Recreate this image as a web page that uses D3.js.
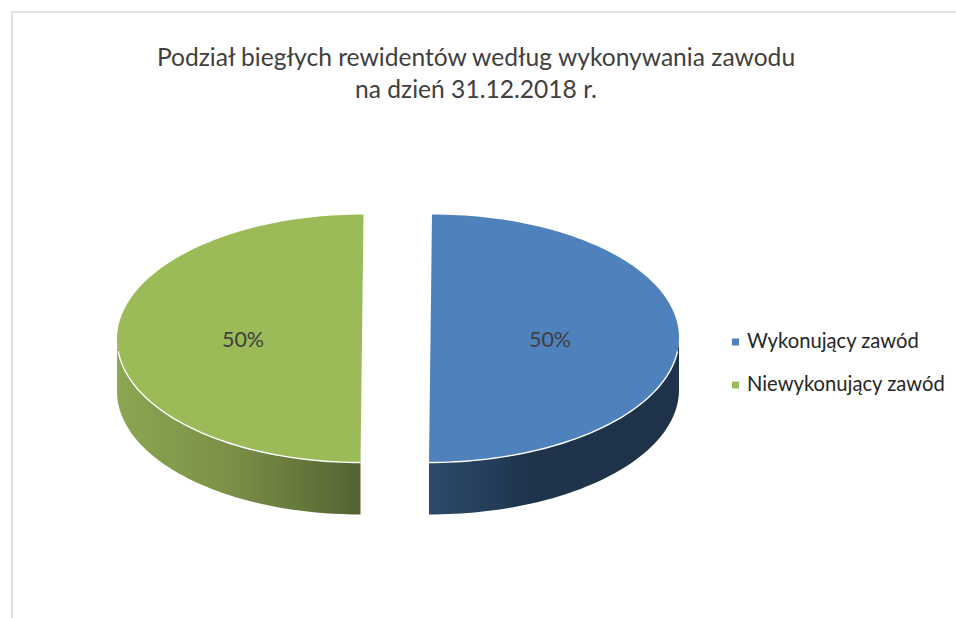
<!DOCTYPE html>
<html><head><meta charset="utf-8">
<script src="https://cdn.jsdelivr.net/npm/d3@7"></script>
<style>html,body{margin:0;padding:0;background:#fff}svg{display:block}text{font-family:Lato,"Open Sans",sans-serif}</style>
</head><body><div id="c"></div>
<script>
const categories = ["Wykonujący zawód", "Niewykonujący zawód"];
const shares = [50, 50];
const labels = ["50%", "50%"];
const titleLines = ["Podział biegłych rewidentów według wykonywania zawodu", "na dzień 31.12.2018 r."];
const topColors = ["#4f81bd", "#9bbb59"];
const sideStops = [
  [["0%", "#2d4a6b"], ["40%", "#1f344c"], ["100%", "#1e3249"]],
  [["0%", "#8ba651"], ["45%", "#7b9148"], ["100%", "#536331"]]
];

const W = 956, H = 618;
const svg = d3.select("#c").append("svg").attr("width", W).attr("height", H);
const defs = svg.append("defs");

// Frame
svg.append("path").attr("d", d3.line()([[12, H], [12, 12], [W, 12]]))
  .attr("fill", "none").attr("stroke", "#d9d9d9").attr("stroke-width", 1.6);

// Title
svg.append("g").selectAll("text").data(titleLines).join("text")
  .attr("x", 476).attr("y", (d, i) => 66 + i * 32)
  .attr("text-anchor", "middle").attr("font-size", 24.6).attr("fill", "#404040").text(d => d);

// Pie
const pie = d3.pie().sort(null).startAngle(0).endAngle(2 * Math.PI);
const arcs = pie(shares);
const geo = [
  { cx: 430.5, rx: 248.5 },
  { cx: 362, rx: 245 }
];
const cy = 338.5, ry = 124, depth = 52, shear = -3 / 248;
const xs = (g, a) => g.cx + g.rx * Math.sin(a);
const ys = a => cy - ry * Math.cos(a);
const project = (g, a, dy = 0) => [xs(g, a) + (ys(a) - cy) * shear, ys(a) + dy];
const line = d3.line();

arcs.forEach((d, i) => {
  const g = geo[i];
  const angles = d3.range(0, 121).map(k => d.startAngle + (d.endAngle - d.startAngle) * k / 120);
  const rim = angles.map(a => project(g, a));
  const center = [g.cx, cy];

  // Visible rim: the part of the slice lying on the front half of the ellipse
  const front = angles.filter(a => Math.cos(a) <= 0.0);
  const edge = angles.filter(a => Math.cos(a) <= -0.09);
  const upper = front.map(a => project(g, a));
  const lower = front.map(a => project(g, a, depth)).reverse();
  const ext = d3.extent(upper, p => p[0]);
  const gid = "side" + i;
  const lg = defs.append("linearGradient").attr("id", gid)
    .attr("gradientUnits", "userSpaceOnUse")
    .attr("x1", ext[0]).attr("x2", ext[1]).attr("y1", 0).attr("y2", 0);
  lg.selectAll("stop").data(sideStops[i]).join("stop")
    .attr("offset", s => s[0]).attr("stop-color", s => s[1]);
  svg.append("path").attr("d", line(upper.concat(lower)) + "Z").attr("fill", `url(#${gid})`);

  svg.append("path").attr("d", line(rim) + "L" + center.join(",") + "Z")
    .attr("fill", topColors[i]);
  svg.append("path").attr("d", line(edge.map(a => project(g, a))))
    .attr("fill", "none").attr("stroke", "#fff").attr("stroke-width", 1.4);
});

// Data labels
const labelX = [550, 243];
svg.append("g").selectAll("text").data(labels).join("text")
  .attr("x", (d, i) => labelX[i]).attr("y", 347)
  .attr("text-anchor", "middle").attr("font-size", 21.5).attr("fill", "#404040").text(d => d);

// Legend
const legendY = d3.scalePoint().domain(categories).range([342, 385]);
const lgd = svg.append("g").selectAll("g").data(categories).join("g")
  .attr("transform", d => `translate(732,${legendY(d)})`);
lgd.append("rect").attr("x", 0).attr("y", -3.5).attr("width", 7).attr("height", 7)
  .attr("fill", (d, i) => topColors[i]);
lgd.append("text").attr("x", 15).attr("y", 6).attr("font-size", 20.2).attr("fill", "#262626").text(d => d);
</script></body></html>
